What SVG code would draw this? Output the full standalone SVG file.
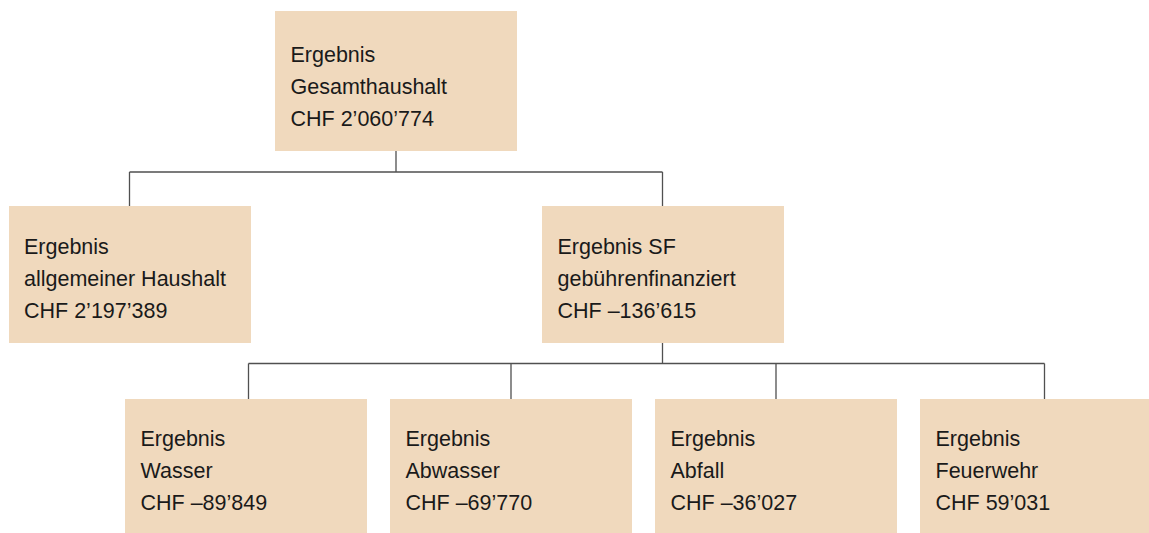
<svg xmlns="http://www.w3.org/2000/svg" width="1149" height="533" viewBox="0 0 1149 533">
<style>
.box{fill:#F0D9BD}
.t{font-family:"Liberation Sans",Arial,sans-serif;font-size:21.5px;fill:#1a1a1a}
.c{stroke:#505050;stroke-width:1.3;fill:none}
</style>
<rect width="1149" height="533" fill="#fff"/>
<g id="connectors">
<path class="c" d="M396 151V172M129.5 172H662.5M129.5 172V206M662.5 172V206"/>
<path class="c" d="M662.5 343V363.5M248.5 363.5H1044.5M248.5 363.5V399M511 363.5V399M776 363.5V399M1044.5 363.5V399"/>
</g>
<g id="n-gesamt">
<rect class="box" x="275" y="11" width="242" height="140"/>
<text class="t" x="290.5" y="62">Ergebnis</text>
<text class="t" x="290.5" y="94">Gesamthaushalt</text>
<text class="t" x="290.5" y="126">CHF 2’060’774</text>
</g>
<g id="n-allgemein">
<rect class="box" x="9" y="206" width="242" height="137"/>
<text class="t" x="24" y="254">Ergebnis</text>
<text class="t" x="24" y="286">allgemeiner Haushalt</text>
<text class="t" x="24" y="318">CHF 2’197’389</text>
</g>
<g id="n-sf">
<rect class="box" x="542" y="206" width="242" height="137"/>
<text class="t" x="557.5" y="254">Ergebnis SF</text>
<text class="t" x="557.5" y="286">gebührenfinanziert</text>
<text class="t" x="557.5" y="318">CHF –136’615</text>
</g>
<g id="n-wasser">
<rect class="box" x="125" y="399" width="242" height="134"/>
<text class="t" x="140.5" y="446">Ergebnis</text>
<text class="t" x="140.5" y="478">Wasser</text>
<text class="t" x="140.5" y="510">CHF –89’849</text>
</g>
<g id="n-abwasser">
<rect class="box" x="390" y="399" width="242" height="134"/>
<text class="t" x="405.5" y="446">Ergebnis</text>
<text class="t" x="405.5" y="478">Abwasser</text>
<text class="t" x="405.5" y="510">CHF –69’770</text>
</g>
<g id="n-abfall">
<rect class="box" x="655" y="399" width="242" height="134"/>
<text class="t" x="670.5" y="446">Ergebnis</text>
<text class="t" x="670.5" y="478">Abfall</text>
<text class="t" x="670.5" y="510">CHF –36’027</text>
</g>
<g id="n-feuerwehr">
<rect class="box" x="920" y="399" width="229" height="134"/>
<text class="t" x="935.5" y="446">Ergebnis</text>
<text class="t" x="935.5" y="478">Feuerwehr</text>
<text class="t" x="935.5" y="510">CHF 59’031</text>
</g>
</svg>
